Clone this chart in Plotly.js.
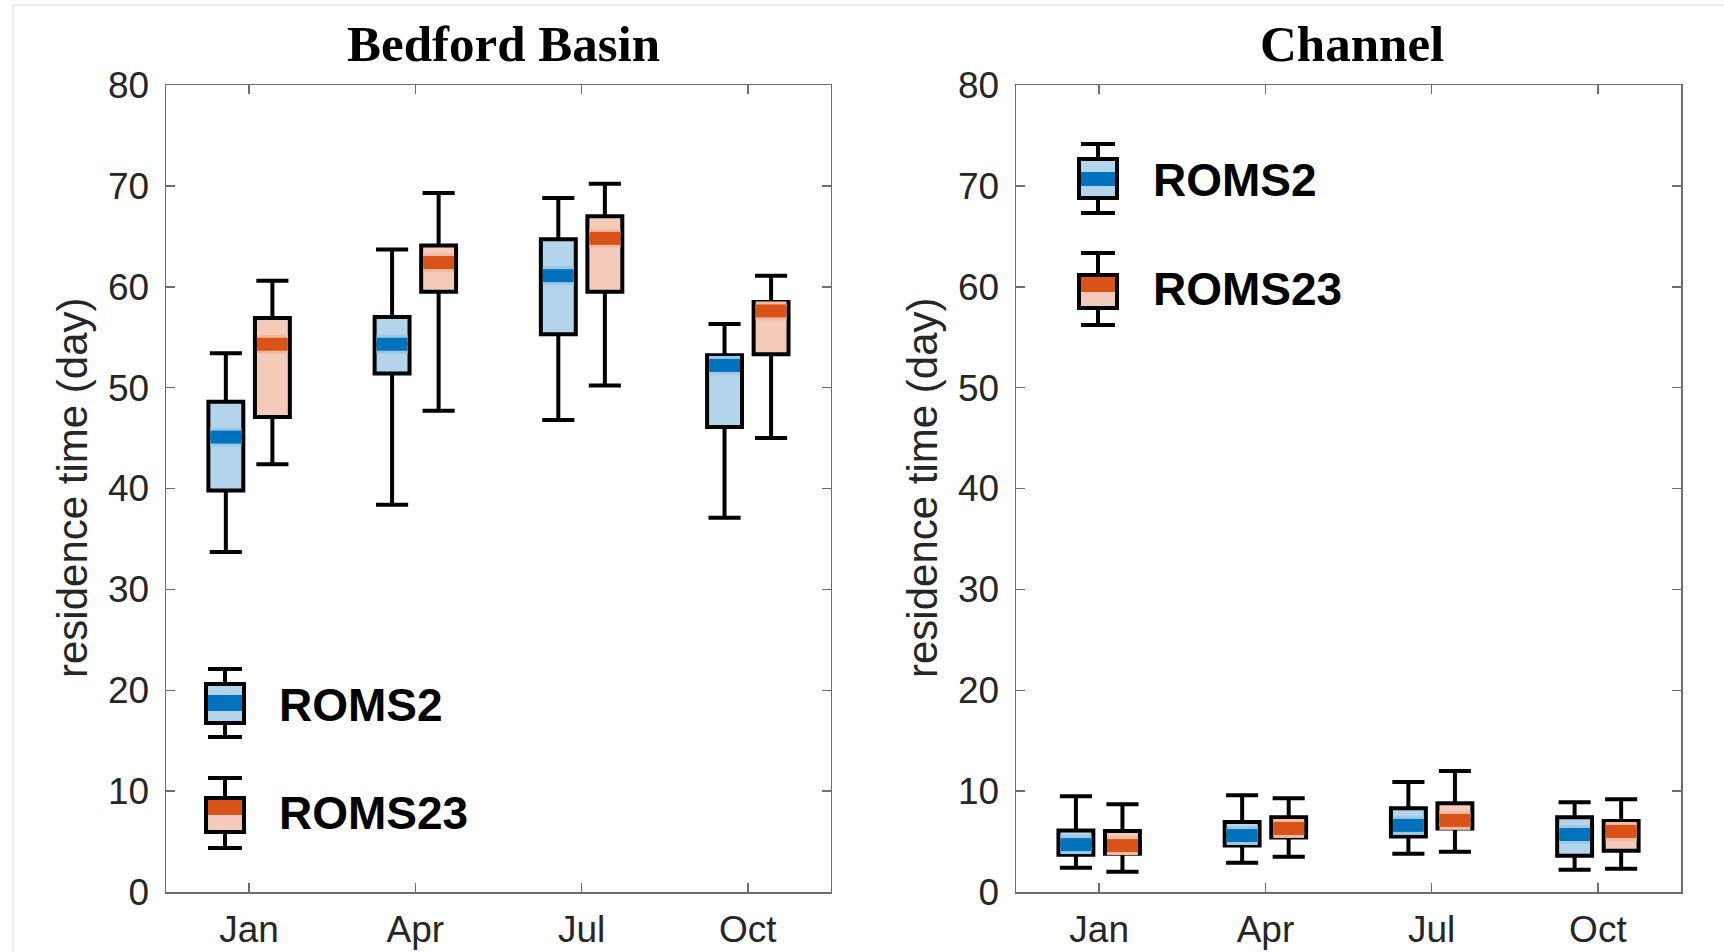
<!DOCTYPE html>
<html>
<head>
<meta charset="utf-8">
<script src="https://cdn.plot.ly/plotly-3.0.1.min.js"></script>
<style>html,body{margin:0;padding:0;background:#fff;}#plot{width:1724px;height:952px;}</style>
</head>
<body>
<div id="plot"></div>
<script>
// ---------- data ----------
const months = ['Jan', 'Apr', 'Jul', 'Oct'];
const seriesNames = ['ROMS2', 'ROMS23'];
const panelTitles = ['Bedford Basin', 'Channel'];
const yTitle = 'residence time (day)';

// Bedford Basin
const bbR2Low  = [33.7, 38.4, 46.8, 37.1];
const bbR2Q1   = [39.8, 51.4, 55.3, 46.1];
const bbR2Med  = [45.1, 54.3, 61.1, 52.2];
const bbR2Q3   = [48.6, 57.0, 64.7, 53.2];
const bbR2High = [53.4, 63.7, 68.8, 56.3];

const bbR23Low  = [42.4, 47.7, 50.2, 45.0];
const bbR23Q1   = [47.1, 59.5, 59.5, 53.3];
const bbR23Med  = [54.3, 62.4, 64.8, 57.6];
const bbR23Q3   = [56.9, 64.1, 67.0, 58.5];
const bbR23High = [60.6, 69.3, 70.2, 61.1];

// Channel
const chR2Low  = [2.4, 2.9, 3.8, 2.2];
const chR2Q1   = [3.7, 4.6, 5.5, 3.6];
const chR2Med  = [4.7, 5.6, 6.6, 5.7];
const chR2Q3   = [6.1, 6.95, 8.3, 7.4];
const chR2High = [9.5, 9.6, 10.9, 8.9];

const chR23Low  = [2.0, 3.5, 4.0, 2.3];
const chR23Q1   = [3.8, 5.4, 6.3, 4.1];
const chR23Med  = [4.6, 6.3, 7.1, 6.0];
const chR23Q3   = [6.05, 7.4, 8.8, 7.05];
const chR23High = [8.7, 9.3, 12.0, 9.2];

// ---------- style ----------
const W = 1724, H = 952;
const M = {l: 166, r: 43, t: 85, b: 60};
const PW = W - M.l - M.r, PH = H - M.t - M.b;
const dark  = ['#0072BD', '#D95319'];
const light = ['#B3D5EB', '#F4CBBA'];
const halo  = ['#9CC8E6', '#F0BBA5'];
const offsets = [-0.14, 0.14];
const boxW = 0.21;
const lw = 4;
const catPx = (PW * 0.4389) / 4;           // px per category unit
const medLen = boxW * catPx - lw;           // inner box width in px

const tickFont = {family: 'Liberation Sans, Arial, Helvetica, sans-serif', size: 37, color: '#262626'};

const panels = [
  {xa: 'x', ya: 'y', data: [[bbR2Low, bbR2Q1, bbR2Med, bbR2Q3, bbR2High], [bbR23Low, bbR23Q1, bbR23Med, bbR23Q3, bbR23High]]},
  {xa: 'x2', ya: 'y2', data: [[chR2Low, chR2Q1, chR2Med, chR2Q3, chR2High], [chR23Low, chR23Q1, chR23Med, chR23Q3, chR23High]]}
];

const traces = [];
panels.forEach(p => {
  p.data.forEach((s, k) => {
    const xs = months.map((m, i) => i + 1 + offsets[k]);
    traces.push({
      type: 'box', xaxis: p.xa, yaxis: p.ya, name: seriesNames[k], x: xs,
      lowerfence: s[0], q1: s[1], median: s[2], q3: s[3], upperfence: s[4],
      width: boxW, whiskerwidth: 0.92, boxpoints: false,
      fillcolor: light[k], line: {color: '#000', width: lw},
      hoverinfo: 'skip', showlegend: false
    });
  });
  p.data.forEach((s, k) => {
    const xs = months.map((m, i) => i + 1 + offsets[k]);
    traces.push({
      type: 'scatter', mode: 'markers', xaxis: p.xa, yaxis: p.ya, x: xs, y: s[2],
      marker: {symbol: 'line-ew', size: medLen / 1.4, color: halo[k], line: {color: halo[k], width: 19}},
      hoverinfo: 'skip', showlegend: false, cliponaxis: false
    });
    traces.push({
      type: 'scatter', mode: 'markers', xaxis: p.xa, yaxis: p.ya, x: xs, y: s[2],
      marker: {symbol: 'line-ew', size: medLen / 1.4, color: dark[k], line: {color: dark[k], width: 13}},
      hoverinfo: 'skip', showlegend: false, cliponaxis: false
    });
  });
});

// pixel -> paper helpers for decorations
const px = v => (v - M.l) / PW;
const py = v => (M.t + PH - v) / PH;

const shapes = [];
const annotations = [];

// legend icons (decoration): [centerX, capTop, boxTop, bandTop, bandBot, boxBot, capBot, seriesIndex, textX, textY]
const legendItems = [
  [225, 669, 684, 695, 711, 723, 737, 0, 277, 704],
  [225, 778, 798, 800, 815, 832, 848, 1, 277, 812],
  [1098, 144, 159, 172, 186, 198, 213, 0, 1151, 179],
  [1098, 253, 275, 277, 292, 308, 325, 1, 1151, 288]
];
legendItems.forEach(it => {
  const [cx, ct, bt, mt, mb, bb, cb, k, tx, ty] = it;
  const hw = 19, chw = 17;
  const base = {xref: 'paper', yref: 'paper'};
  shapes.push(Object.assign({type: 'rect', x0: px(cx - hw), x1: px(cx + hw), y0: py(bb), y1: py(bt), fillcolor: light[k], line: {width: 0}}, base));
  shapes.push(Object.assign({type: 'rect', x0: px(cx - hw), x1: px(cx + hw), y0: py(mb), y1: py(mt), fillcolor: dark[k], line: {width: 0}}, base));
  shapes.push(Object.assign({type: 'rect', x0: px(cx - hw), x1: px(cx + hw), y0: py(bb), y1: py(bt), fillcolor: 'rgba(0,0,0,0)', line: {color: '#000', width: lw}}, base));
  shapes.push(Object.assign({type: 'line', x0: px(cx), x1: px(cx), y0: py(bt), y1: py(ct), line: {color: '#000', width: lw}}, base));
  shapes.push(Object.assign({type: 'line', x0: px(cx), x1: px(cx), y0: py(cb), y1: py(bb), line: {color: '#000', width: lw}}, base));
  shapes.push(Object.assign({type: 'line', x0: px(cx - chw), x1: px(cx + chw), y0: py(ct), y1: py(ct), line: {color: '#000', width: lw}}, base));
  shapes.push(Object.assign({type: 'line', x0: px(cx - chw), x1: px(cx + chw), y0: py(cb), y1: py(cb), line: {color: '#000', width: lw}}, base));
  annotations.push({xref: 'paper', yref: 'paper', x: px(tx), y: py(ty + 1), xanchor: 'left', yanchor: 'middle',
    text: seriesNames[k], showarrow: false,
    font: {family: 'Liberation Sans, Arial, Helvetica, sans-serif', size: 46, color: '#000', weight: 'bold'}});
});

// panel titles
[[503, panelTitles[0]], [1352, panelTitles[1]]].forEach(t => {
  annotations.push({xref: 'paper', yref: 'paper', x: px(t[0]), y: py(44), xanchor: 'center', yanchor: 'middle',
    text: '<b>' + t[1] + '</b>', showarrow: false,
    font: {family: 'Liberation Serif, Times New Roman, serif', size: 51, color: '#000'}});
});
// y axis titles
[72, 922].forEach(x => {
  annotations.push({xref: 'paper', yref: 'paper', x: px(x), y: py(488), xanchor: 'center', yanchor: 'middle',
    text: yTitle, textangle: -90, showarrow: false,
    font: {family: 'Liberation Sans, Arial, Helvetica, sans-serif', size: 42, color: '#262626'}});
});

// faint figure border
shapes.push({type: 'line', xref: 'paper', yref: 'paper', x0: px(13), x1: px(1724), y0: py(5), y1: py(5), line: {color: '#e6e6e6', width: 1.5}});
shapes.push({type: 'line', xref: 'paper', yref: 'paper', x0: px(13), x1: px(13), y0: py(5), y1: py(952), line: {color: '#e6e6e6', width: 1.5}});

const xax = (dom, anchor) => ({
  domain: dom, anchor: anchor, range: [0.5, 4.5], tickvals: months.map((m, i) => i + 1), ticktext: months,
  ticks: 'inside', ticklen: 9, tickwidth: 1.5, tickcolor: '#6e6e6e', mirror: 'ticks', showline: true,
  linecolor: '#6e6e6e', linewidth: 1.5, showgrid: false, zeroline: false, tickfont: tickFont,
  ticklabelstandoff: 4, fixedrange: true
});
const yax = (anchor) => ({
  anchor: anchor, range: [0, 80], dtick: 10, ticks: 'inside', ticklen: 9, tickwidth: 1.5, tickcolor: '#6e6e6e',
  mirror: 'ticks', showline: true, linecolor: '#6e6e6e', linewidth: 1.5, showgrid: false, zeroline: false,
  tickfont: tickFont, ticklabelstandoff: 8, fixedrange: true
});

const layout = {
  width: W, height: H, margin: M, paper_bgcolor: '#fff', plot_bgcolor: '#fff',
  showlegend: false, boxmode: 'overlay',
  xaxis: xax([0, 0.4389], 'y'), yaxis: yax('x'),
  xaxis2: xax([0.5611, 1], 'y2'), yaxis2: yax('x2'),
  shapes: shapes, annotations: annotations
};

Plotly.newPlot('plot', traces, layout, {displayModeBar: false, staticPlot: true});
</script>
</body>
</html>
